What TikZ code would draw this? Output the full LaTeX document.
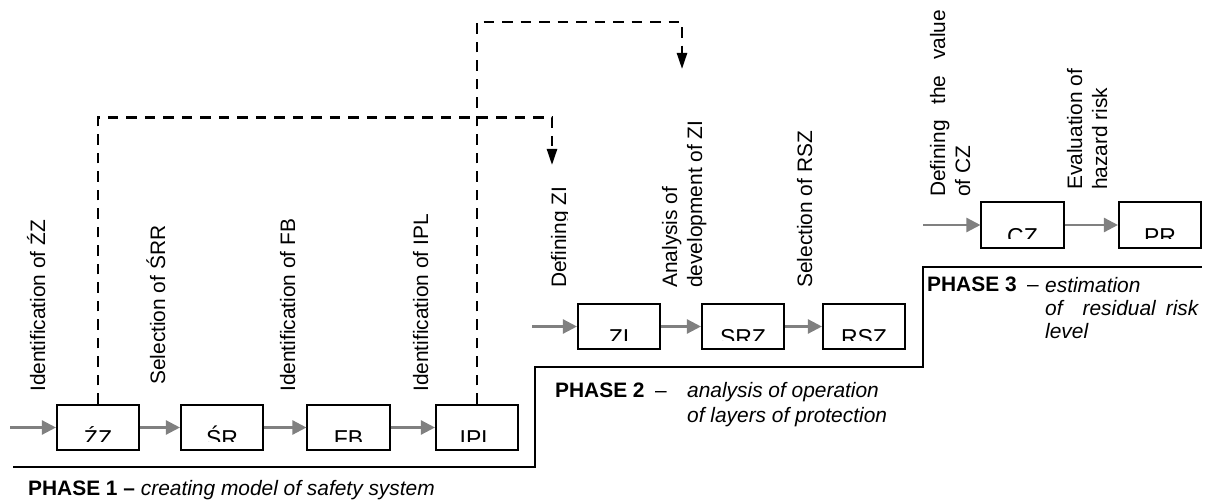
\documentclass[tikz,border=0pt]{standalone}
\usepackage{fontspec}
\setmainfont{Liberation Sans}
\usetikzlibrary{arrows.meta}
\definecolor{arrgray}{HTML}{808080}
\newcommand{\cutlabel}[2]{%
  \begin{scope}
    \clip ([xshift=1.5pt,yshift=-1.5pt]#1.north west) rectangle ([xshift=-1.5pt,yshift=-37.5pt]#1.north east);
    \node[anchor=base, font=\fontsize{23}{27}\selectfont] at ([yshift=-43pt]#1.north) {#2};
  \end{scope}}
\begin{document}
\begin{tikzpicture}[x=1pt,y=-1pt,
  every node/.style={font=\fontsize{20.9}{25}\selectfont, inner sep=0pt},
  blk/.style={draw, line width=1.6pt, minimum width=82.5pt, minimum height=45.5pt},
  flow/.style={draw=arrgray, line width=2.4pt, -{Triangle[length=14pt,width=14pt]}},
  link/.style={draw=black, line width=2.4pt, dash pattern=on 10.5pt off 8pt, -{Triangle[length=16pt,width=10pt]}},
  phaseline/.style={line width=1.8pt},
  vlabel/.style={rotate=90, anchor=base west, align=left}
]
\useasboundingbox (0,0) rectangle (1206,502);

% Phase 1 boxes
\node[blk] (zz)  at (98,427.5) {};
\node[blk] (sr)  at (222,427.5) {};
\node[blk] (fb)  at (348.5,427.5) {};
\node[blk] (ipl) at (477,427.5) {};
% Phase 2 boxes
\node[blk] (zi)  at (619,326.5) {};
\node[blk] (srz) at (743,326.5) {};
\node[blk] (rsz) at (864,326.5) {};
% Phase 3 boxes
\node[blk] (cz)  at (1022.5,225) {};
\node[blk] (pr)  at (1160,225) {};

\cutlabel{zz}{ŹZ}
\cutlabel{sr}{ŚR}
\cutlabel{fb}{FB}
\cutlabel{ipl}{IPL}
\cutlabel{zi}{ZI}
\cutlabel{srz}{SRZ}
\cutlabel{rsz}{RSZ}
\cutlabel{cz}{CZ}
\cutlabel{pr}{PR}

% incoming arrows
\coordinate (in1) at (10,427.5);
\coordinate (in2) at (532,326.5);
\coordinate (in3) at (923,225);
\draw[flow] (in1) -- (zz);
\draw[flow] (zz) -- (sr);
\draw[flow] (sr) -- (fb);
\draw[flow] (fb) -- (ipl);
\draw[flow] (in2) -- (zi);
\draw[flow] (zi) -- (srz);
\draw[flow] (srz) -- (rsz);
\draw[flow] (in3) -- (cz);
\draw[flow] (cz) -- (pr);

% dashed feedback links
\coordinate (c1) at (552,117.7);
\coordinate (t1) at (552,165);
\coordinate (c2) at (682,22);
\coordinate (t2) at (682,69);
\draw[link] (zz.north) |- (c1) -- (t1);
\draw[link] (ipl.north) |- (c2) -- (t2);

% phase boundary
\draw[phaseline] (13,467) -- (535,467) -- (535,367) -- (923,367) -- (923,267) -- (1202,267);

% rotated labels (anchor = baseline of last line)
\node[vlabel] (l1) at (45,392) {Identification of ŹZ};
\node[vlabel] (l2) at (165,385) {Selection of ŚRR};
\node[vlabel] (l3) at (295,392) {Identification of FB};
\node[vlabel] (l4) at (428,392) {Identification of IPL};
\begin{scope}
  \clip (530,0) rectangle (567,300);
  \node[vlabel] (l5) at (566,288) {Defining ZI};
\end{scope}
\node[vlabel] (l6) at (702,288) {Analysis of\\development of ZI};
\node[vlabel] (l7) at (812,288) {Selection of RSZ};
\node[vlabel] (l8) at (970,197) {\makebox[187pt][l]{Defining\hfill the\hfill value}\\of CZ};
\node[vlabel] (l9) at (1107,190) {Evaluation of\\hazard risk};

% phase texts
\node[anchor=base west] (p1) at (28,495) {\textbf{PHASE 1 –} \textit{creating model of safety system}};
\node[anchor=base west] (p2) at (555,397) {\textbf{PHASE 2}};
\node[anchor=base west] (p2d) at (655,397) {–};
\node[anchor=base west, align=left] (p2t) at (687,422) {\itshape analysis of operation\\\itshape of layers of protection};
\node[anchor=base west] (p3) at (927,292) {\textbf{PHASE 3}};
\node[anchor=base west] (p3d) at (1027,292) {–};
\node[anchor=base west, align=left, font=\fontsize{20.9}{23}\selectfont] (p3t) at (1045,338) {\itshape estimation\\\itshape of\hspace{20pt}residual\hspace{10pt}risk\\\itshape level};
\end{tikzpicture}
\end{document}
